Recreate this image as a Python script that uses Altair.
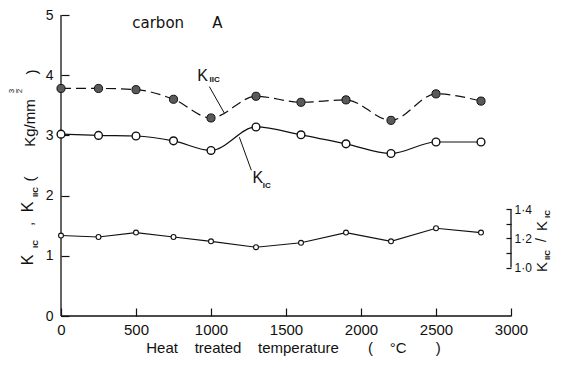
import altair as alt
import pandas as pd

# ---- data ----
temps = [0, 250, 500, 750, 1000, 1300, 1600, 1900, 2200, 2500, 2800]
k_iic = [3.78, 3.78, 3.76, 3.60, 3.29, 3.65, 3.55, 3.59, 3.25, 3.69, 3.57]
k_ic = [3.02, 3.00, 2.99, 2.91, 2.75, 3.14, 3.01, 2.86, 2.70, 2.89, 2.89]
ratio = [1.22, 1.21, 1.24, 1.21, 1.18, 1.14, 1.17, 1.24, 1.18, 1.27, 1.24]

x_ticks = [0, 500, 1000, 1500, 2000, 2500, 3000]
y_ticks = [0, 1, 2, 3, 4, 5]
ratio_ticks = [1.0, 1.1, 1.2, 1.3, 1.4]

# annotation anchors (data units)
label_T = [909, 990, 1276, 1345]
label_v = [3.91, 3.88, 2.21, 2.12]
label_txt = ["K", "IIC", "K", "IC"]
leader_T0 = [989, 1189]
leader_v0 = [3.81, 2.97]
leader_T1 = [1089, 1269]
leader_v1 = [3.37, 2.42]
note_T = [475, 1009]
note_v = [4.78, 4.78]
note_txt = ["carbon", "A"]

df = pd.DataFrame({"T": temps, "kiic": k_iic, "kic": k_ic, "ratio": ratio})

FONT = "Liberation Sans"
INK = "#111111"
W, H = 450, 301
NB = "\u00a0"

xs = alt.Scale(domain=[x_ticks[0], x_ticks[-1]], nice=False, zero=False)
ys = alt.Scale(domain=[y_ticks[0], y_ticks[-1]], nice=False)
rs = alt.Scale(domain=[0.668, 2.733], nice=False, zero=False)

x_title = ("Heat" + NB * 4 + "treated" + NB * 4 + "temperature" + NB * 7 + "(" +
           NB * 4 + "°C" + NB * 7 + ")")

x_axis = alt.Axis(values=x_ticks, format="d", tickSize=8, offset=-8, domain=False,
                  grid=False, labelFont=FONT, labelFontSize=15, labelColor=INK,
                  labelPadding=6, tickColor=INK, tickWidth=1.2, labelFlush=False,
                  title=x_title, titleFont=FONT, titleFontSize=15,
                  titleFontWeight="normal", titleColor=INK, titleX=232,
                  titleAlign="center", titlePadding=3)
y_axis = alt.Axis(values=y_ticks, format="d", tickSize=8, offset=-8, domain=False,
                  grid=False, labelFont=FONT, labelFontSize=14, labelColor=INK,
                  labelPadding=8, tickColor=INK, tickWidth=1.2, title=None)
r_axis = alt.Axis(orient="right", values=ratio_ticks, tickSize=5, offset=-5,
                  domain=False, grid=False, labelFont=FONT, labelFontSize=12,
                  labelColor=INK, labelPadding=3, tickColor=INK, tickWidth=1.2,
                  title=None,
                  labelExpr="datum.value == 1 ? '1·0' : datum.value == 1.2 ? '1·2' : datum.value == 1.4 ? '1·4' : ''")


def XQ(field):
    return alt.X(field, type="quantitative", scale=xs, axis=x_axis)


def YQ(field):
    return alt.Y(field, type="quantitative", scale=ys, axis=y_axis)


def RQ(field):
    return alt.Y(field, type="quantitative", scale=rs, axis=r_axis)


base = alt.Chart(df)

# axis lines (left and bottom)
axes_df = pd.DataFrame({"x0": [x_ticks[0], x_ticks[0]], "x1": [x_ticks[0], x_ticks[-1]],
                        "y0": [y_ticks[0], y_ticks[0]], "y1": [y_ticks[-1], y_ticks[0]]})
axis_lines = alt.Chart(axes_df).mark_rule(color=INK, strokeWidth=1.3).encode(
    x=XQ("x0"), x2="x1", y=YQ("y0"), y2="y1")

kiic_line = base.mark_line(color=INK, strokeWidth=1.2, strokeDash=[10, 5],
                           interpolate="monotone").encode(x=XQ("T"), y=YQ("kiic"))
kiic_pts = base.mark_circle(fill="#5a5a5a", stroke=INK, strokeWidth=1, size=66,
                            opacity=1).encode(x=XQ("T"), y=YQ("kiic"))
kic_line = base.mark_line(color=INK, strokeWidth=1.2, interpolate="monotone").encode(
    x=XQ("T"), y=YQ("kic"))
kic_pts = base.mark_circle(fill="white", stroke=INK, strokeWidth=1.4, size=60,
                           opacity=1).encode(x=XQ("T"), y=YQ("kic"))

lead_df = pd.DataFrame({"a": leader_T0, "b": leader_v0, "c": leader_T1, "d": leader_v1})
leaders = alt.Chart(lead_df).mark_rule(color=INK, strokeWidth=1).encode(
    x=XQ("a"), y=YQ("b"), x2="c", y2="d")

lab_df = pd.DataFrame({"T": label_T, "v": label_v, "t": label_txt})
labels_big = alt.Chart(lab_df).transform_filter("datum.t == 'K'").mark_text(
    font=FONT, fontSize=16, color=INK, align="left", baseline="alphabetic").encode(
    x=XQ("T"), y=YQ("v"), text="t:N")
labels_sub = alt.Chart(lab_df).transform_filter("datum.t != 'K'").mark_text(
    font=FONT, fontSize=8, fontWeight="bold", color=INK, align="left",
    baseline="alphabetic").encode(x=XQ("T"), y=YQ("v"), text="t:N")

note_df = pd.DataFrame({"T": note_T, "v": note_v, "t": note_txt})
notes = alt.Chart(note_df).mark_text(font="DejaVu Sans", fontSize=15, color=INK,
                                     align="left", baseline="alphabetic").encode(
    x=XQ("T"), y=YQ("v"), text="t:N")

# rotated axis-title pieces (pixel layout relative to plot origin)
one = pd.DataFrame({"a": [0]})


def piece(txt, px, py, size, bold=False):
    return alt.Chart(one).mark_text(text=txt, angle=270, font=FONT, fontSize=size,
                                    fontWeight="bold" if bold else "normal",
                                    color=INK, align="center", baseline="middle").encode(
        x=alt.value(px), y=alt.value(py))


left_title = [
    piece("K", -33, 245, 16), piece("IC", -25, 229, 8, True),
    piece(",", -33, 209, 15),
    piece("K", -33, 192, 16), piece("IIC", -25, 177, 8, True),
    piece("(", -31, 164, 15), piece("Kg/mm", -31, 108, 15),
    piece("3", -49, 76, 8), piece("–", -45, 76, 8), piece("2", -41, 76, 8),
    piece(")", -29, 57, 15),
]
right_title = [
    piece("K", 481, 252, 15), piece("IIC", 487, 240, 8, True),
    piece("/", 481, 225, 14),
    piece("K", 481, 211, 15), piece("IC", 487, 199, 8, True),
]

left_layer = alt.layer(axis_lines, kiic_line, kic_line, kiic_pts, kic_pts, leaders,
                       labels_big, labels_sub, notes, *left_title, *right_title)

ratio_line = base.mark_line(color=INK, strokeWidth=1.1).encode(x=XQ("T"), y=RQ("ratio"))
ratio_pts = base.mark_circle(fill="white", stroke=INK, strokeWidth=1.1, size=24,
                             opacity=1).encode(x=XQ("T"), y=RQ("ratio"))
rr_df = pd.DataFrame({"x": [x_ticks[-1]], "r0": [ratio_ticks[0]], "r1": [ratio_ticks[-1]]})
ratio_rule = alt.Chart(rr_df).mark_rule(color=INK, strokeWidth=1.3).encode(
    x=XQ("x"), y=RQ("r0"), y2="r1")

right_layer = alt.layer(ratio_line, ratio_pts, ratio_rule)

chart = alt.layer(left_layer, right_layer).resolve_scale(y="independent").properties(
    width=W, height=H,
    padding={"left": 53, "top": 7, "right": 42, "bottom": 42},
    autosize=alt.AutoSizeParams(type="none"),
).configure_view(stroke=None)

chart.save("out.html", embed_options={"renderer": "svg", "actions": False})
